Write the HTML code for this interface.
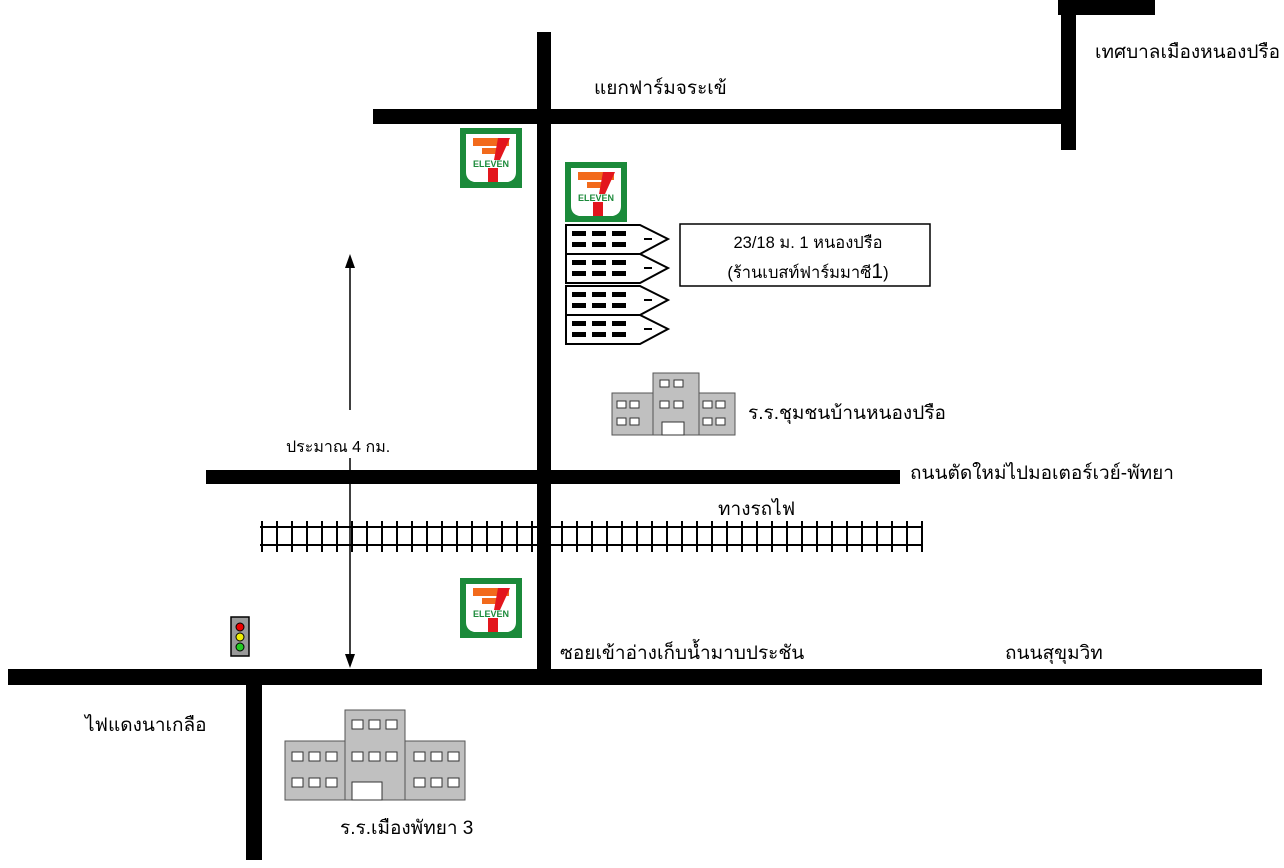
<!DOCTYPE html><html><head><meta charset="utf-8"><style>body{margin:0;background:#fff}svg{display:block}text{font-family:"Liberation Sans","Noto Sans CJK SC",sans-serif;font-size:19px;fill:#000}</style></head><body>
<svg width="1284" height="868" viewBox="0 0 1284 868" xmlns="http://www.w3.org/2000/svg">
<defs>
<g id="se">
<rect x="0" y="0" width="62" height="60" fill="#1b8a3a"/>
<path d="M6 6 H56 V44 Q56 52 48 54 H14 Q6 52 6 44Z" fill="#fff"/>
<rect x="13" y="10" width="36" height="8" fill="#f26a1b"/>
<rect x="22" y="20" width="16" height="6" fill="#f26a1b"/>
<path d="M38 10 H50 L40 32 H34Z" fill="#e3161d"/>
<rect x="28" y="40" width="10" height="14" fill="#e3161d"/>
<text x="31" y="39" text-anchor="middle" style="font-size:9px;font-weight:bold;fill:#1b8a3a">ELEVEN</text>
</g>
<g id="unit">
<path d="M0 0 H74 L102 14 L74 29 H0Z" fill="#fff" stroke="#000" stroke-width="2"/>
<g fill="#000"><rect x="6" y="6" width="14" height="5"/><rect x="26" y="6" width="14" height="5"/><rect x="46" y="6" width="14" height="5"/><rect x="6" y="17" width="14" height="5"/><rect x="26" y="17" width="14" height="5"/><rect x="46" y="17" width="14" height="5"/><rect x="78" y="13" width="8" height="2"/></g>
</g>
<pattern id="tie" x="261" y="0" width="15" height="868" patternUnits="userSpaceOnUse"><rect x="0" y="0" width="2" height="868" fill="#000"/></pattern>
</defs>
<g fill="#000">
<rect x="537" y="32" width="14" height="653"/>
<rect x="373" y="109" width="694" height="15"/>
<rect x="1061" y="0" width="15" height="150"/>
<rect x="1058" y="0" width="97" height="15"/>
<rect x="206" y="470" width="694" height="14"/>
<rect x="8" y="669" width="1254" height="16"/>
<rect x="246" y="685" width="16" height="175"/>
</g>
<rect x="260" y="521" width="664" height="31" fill="url(#tie)"/>
<g stroke="#000" stroke-width="2">
<line x1="260" y1="527" x2="922" y2="527"/><line x1="260" y1="545" x2="922" y2="545"/>
</g>
<g stroke="#000" stroke-width="1.5"><line x1="350" y1="262" x2="350" y2="410"/><line x1="350" y1="458" x2="350" y2="660"/></g>
<path d="M350 254 L345 268 L355 268Z M350 668 L345 654 L355 654Z" fill="#000"/>
<text x="286" y="452" style="font-size:16px">ประมาณ 4 กม.</text>
<use href="#se" x="460" y="128"/>
<use href="#se" x="565" y="162"/>
<use href="#se" x="460" y="578"/>
<use href="#unit" x="566" y="225"/>
<use href="#unit" x="566" y="254"/>
<use href="#unit" x="566" y="286"/>
<use href="#unit" x="566" y="315"/>
<rect x="680" y="224" width="250" height="62" fill="#fff" stroke="#000" stroke-width="1.5"/>
<text x="808" y="248" text-anchor="middle" style="font-size:16.5px">23/18 ม. 1 หนองปรือ</text>
<text x="808" y="278" text-anchor="middle" style="font-size:16.5px">(ร้านเบสท์ฟาร์มมาซี<tspan style="font-size:21px">1</tspan>)</text>
<g stroke="#555" stroke-width="1" fill="#c0c0c0">
<rect x="612" y="393" width="43" height="42"/><rect x="697" y="393" width="38" height="42"/><rect x="653" y="373" width="46" height="62"/>
</g>
<g fill="#fff" stroke="#333" stroke-width="1">
<rect x="617" y="401" width="9" height="7"/><rect x="630" y="401" width="9" height="7"/><rect x="617" y="418" width="9" height="7"/><rect x="630" y="418" width="9" height="7"/>
<rect x="703" y="401" width="9" height="7"/><rect x="716" y="401" width="9" height="7"/><rect x="703" y="418" width="9" height="7"/><rect x="716" y="418" width="9" height="7"/>
<rect x="660" y="380" width="9" height="7"/><rect x="674" y="380" width="9" height="7"/><rect x="660" y="401" width="9" height="7"/><rect x="674" y="401" width="9" height="7"/>
<rect x="662" y="422" width="22" height="13"/>
</g>
<text x="748" y="419">ร.ร.ชุมชนบ้านหนองปรือ</text>
<g stroke="#555" stroke-width="1" fill="#c0c0c0">
<rect x="285" y="741" width="62" height="59"/><rect x="403" y="741" width="62" height="59"/><rect x="345" y="710" width="60" height="90"/>
</g>
<g fill="#fff" stroke="#333" stroke-width="1">
<rect x="292" y="752" width="11" height="9"/><rect x="309" y="752" width="11" height="9"/><rect x="326" y="752" width="11" height="9"/>
<rect x="292" y="778" width="11" height="9"/><rect x="309" y="778" width="11" height="9"/><rect x="326" y="778" width="11" height="9"/>
<rect x="414" y="752" width="11" height="9"/><rect x="431" y="752" width="11" height="9"/><rect x="448" y="752" width="11" height="9"/>
<rect x="414" y="778" width="11" height="9"/><rect x="431" y="778" width="11" height="9"/><rect x="448" y="778" width="11" height="9"/>
<rect x="352" y="720" width="11" height="9"/><rect x="369" y="720" width="11" height="9"/><rect x="386" y="720" width="11" height="9"/>
<rect x="352" y="752" width="11" height="9"/><rect x="369" y="752" width="11" height="9"/><rect x="386" y="752" width="11" height="9"/>
<rect x="352" y="782" width="30" height="18"/>
</g>
<text x="340" y="834">ร.ร.เมืองพัทยา 3</text>
<rect x="231" y="617" width="18" height="39" fill="#999" stroke="#000" stroke-width="1.5"/>
<circle cx="240" cy="627" r="4" fill="#e00" stroke="#000"/><circle cx="240" cy="637" r="4" fill="#ee0" stroke="#000"/><circle cx="240" cy="647" r="4" fill="#2c2" stroke="#000"/>
<text x="594" y="94">แยกฟาร์มจระเข้</text>
<text x="1095" y="58">เทศบาลเมืองหนองปรือ</text>
<text x="910" y="479">ถนนตัดใหม่ไปมอเตอร์เวย์-พัทยา</text>
<text x="718" y="515">ทางรถไฟ</text>
<text x="560" y="659">ซอยเข้าอ่างเก็บน้ำมาบประชัน</text>
<text x="1005" y="659">ถนนสุขุมวิท</text>
<text x="85" y="731">ไฟแดงนาเกลือ</text>
</svg>
</body></html>
